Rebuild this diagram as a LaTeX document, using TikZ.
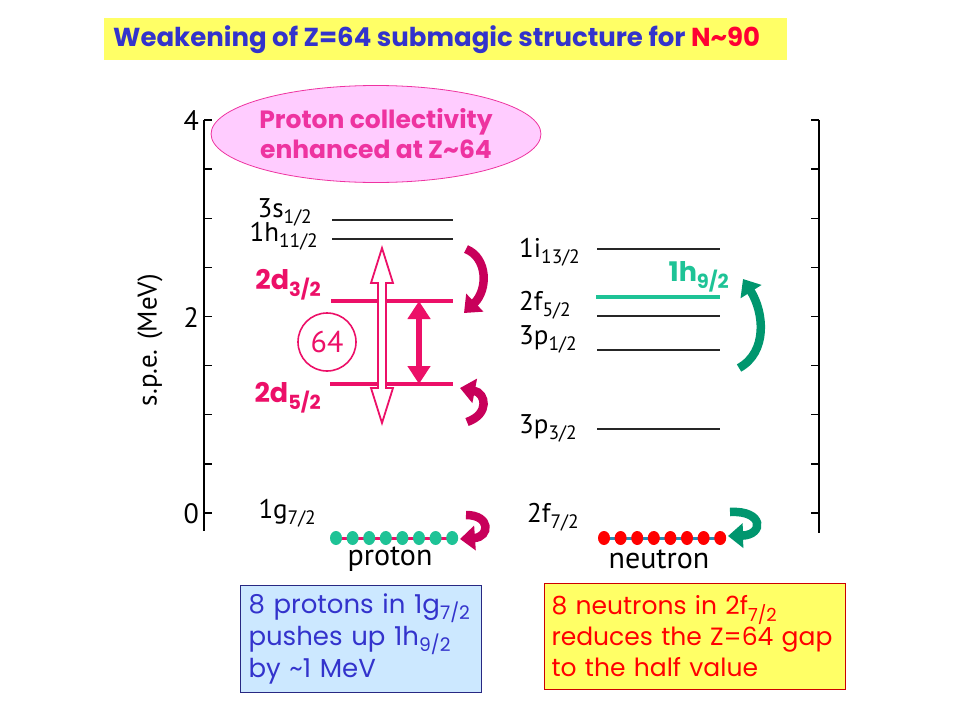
\documentclass[tikz,border=0pt]{standalone}
\usepackage{fontspec}
\setmainfont{PT Sans}
\newfontfamily\comic{Poppins}
\usetikzlibrary{arrows.meta, shapes.geometric}

\definecolor{titleblue}{RGB}{51,51,204}
\definecolor{titlered}{RGB}{255,0,51}
\definecolor{baryellow}{RGB}{255,255,102}
\definecolor{pinkred}{RGB}{236,16,104}
\definecolor{darkpink}{RGB}{200,0,90}
\definecolor{ovalpink}{RGB}{238,51,160}
\definecolor{ovalfill}{RGB}{255,204,255}
\definecolor{teal}{RGB}{30,195,150}
\definecolor{darkteal}{RGB}{0,150,110}
\definecolor{dotline}{RGB}{40,140,180}
\definecolor{boxfill}{RGB}{204,232,255}
\definecolor{boxedge}{RGB}{40,40,130}

\newcommand{\lsub}[1]{\raisebox{-0.45ex}{\scalebox{0.72}{#1}}}

\begin{document}
\begin{tikzpicture}[x=1pt,y=-1pt,
    level/.style={line width=1.6pt, black!85},
    hotlevel/.style={line width=3.5pt, pinkred},
    lab/.style={font=\fontsize{27}{30}\selectfont, inner sep=0pt},
    comictext/.style={font=\comic\bfseries\fontsize{27}{30}\selectfont, inner sep=0pt},
    curl/.style={line width=8.5pt, -{Triangle[length=15pt,width=24pt]}},
    axisline/.style={line width=1.4pt, black}]

  \useasboundingbox (0,0) rectangle (960,720);

  % title bar
  \fill[baryellow] (104,18) rectangle (787,60);
  \node[comictext, anchor=west, text=titleblue, font=\comic\bfseries\fontsize{26}{30}\selectfont] (title) at (113,40) {Weakening of Z=64 submagic structure for \textcolor{titlered}{N\textasciitilde90}};

  % energy axes
  \draw[axisline] (204,120) -- (204,531);
  \draw[axisline] (819,120) -- (819,533);
  \foreach \e in {0,0.5,...,4} {
    \draw[axisline] (204,{513-98.25*\e}) -- ++(8,0);
    \draw[axisline] (819,{513-98.25*\e}) -- ++(-8,0);
  }
  \node[lab, anchor=east, font=\fontsize{28}{30}\selectfont] (e4) at (199,121) {4};
  \node[lab, anchor=east, font=\fontsize{28}{30}\selectfont] (e2) at (199,318) {2};
  \node[lab, anchor=east, font=\fontsize{28}{30}\selectfont] (e0) at (199,514) {0};
  \node[lab, rotate=90] (yaxis) at (150,340) {s.p.e. (MeV)};

  % proton levels
  \draw[level] (332,220) -- (453,220);
  \draw[level] (332,239) -- (453,239);
  \draw[hotlevel] (331,301) coordinate (d3l) -- (453,301) coordinate (d3r);
  \draw[hotlevel] (330,384) coordinate (d5l) -- (453,384) coordinate (d5r);
  \node[lab, anchor=east] (s12) at (312,212) {3s\lsub{1/2}};
  \node[lab, anchor=east] (h112) at (318,236) {1h\lsub{11/2}};
  \node[comictext, anchor=east, text=pinkred] (d32) at (321,285) {2d\lsub{3/2}};
  \node[comictext, anchor=east, text=pinkred] (d52) at (321,398) {2d\lsub{5/2}};
  \node[lab, anchor=east] (g72) at (316,513) {1g\lsub{7/2}};

  % neutron levels
  \draw[level] (597,249) -- (720,249);
  \draw[line width=3.5pt, teal] (596,297) -- (720,297);
  \draw[level] (597,316) -- (720,316);
  \draw[level] (597,350) -- (720,350);
  \draw[level] (597,429) -- (720,429);
  \node[lab, anchor=west] (i132) at (519,252) {1i\lsub{13/2}};
  \node[comictext, anchor=east, text=teal] (h92) at (729,277) {1h\lsub{9/2}};
  \node[lab, anchor=west] (f52) at (519,305) {2f\lsub{5/2}};
  \node[lab, anchor=west] (p12) at (519,339) {3p\lsub{1/2}};
  \node[lab, anchor=west] (p32) at (519,428) {3p\lsub{3/2}};
  \node[lab, anchor=west] (f72) at (527,517) {2f\lsub{7/2}};

  % filled orbitals
  \draw[line width=3pt, pinkred] (336,538) -- (452,538);
  \foreach \i in {0,...,7}
    \fill[teal] ({336+16.6*\i},538) ellipse (6pt and 7pt);
  \draw[line width=3pt, dotline] (604,538) -- (720,538);
  \foreach \i in {0,...,7}
    \fill[red] ({604+16.6*\i},538) ellipse (6pt and 7pt);
  \node[lab, font=\fontsize{30}{32}\selectfont] (proton) at (390,559) {proton};
  \node[lab, font=\fontsize{30}{32}\selectfont] (neutron) at (659,559) {neutron};

  % gap 64
  \node[circle, draw=pinkred, line width=1.6pt, minimum size=58pt, inner sep=0pt, text=pinkred, font=\fontsize{30}{32}\selectfont] (gap) at (327,342) {64};
  \draw[pinkred, line width=1.8pt, fill=white] (382,248) -- (393,283) -- (386,283) -- (386,388) -- (393,388) -- (382,423)
    -- (371,388) -- (378,388) -- (378,283) -- (371,283) -- cycle;
  \coordinate (gaptop) at (419,301);
  \coordinate (gapbot) at (419,384);
  \draw[pinkred, line width=6pt, {Triangle[length=18pt,width=22pt]}-{Triangle[length=18pt,width=22pt]}] (gaptop) -- (gapbot);

  % curled arrows
  \draw[curl, darkpink] (466,249) .. controls (488,258) and (488,290) .. (464,313);
  \draw[curl, darkpink] (467,422) .. controls (490,414) and (486,393) .. (460,388);
  \draw[curl, darkpink] (466,515) .. controls (491,515) and (490,537) .. (460,539);
  \draw[curl, darkteal] (739,368) .. controls (768,352) and (764,312) .. (743,279);
  \draw[curl, darkteal] (730,512) .. controls (764,510) and (764,535) .. (728,536);

  % collectivity oval
  \node[ellipse, draw=ovalpink, fill=ovalfill, line width=0.8pt, minimum width=320pt, minimum height=97pt, inner sep=0pt,
    comictext, text=ovalpink, align=center, font=\comic\bfseries\fontsize{25}{30}\selectfont] (oval) at (376,134)
    {Proton collectivity\\enhanced at Z\textasciitilde64};

  % comment boxes
  \node[draw=boxedge, fill=boxfill, line width=1pt, anchor=north west, minimum width=241pt, minimum height=107pt,
    text width=225pt, inner sep=8pt, align=left, text=titleblue, font=\comic\fontsize{26}{32}\selectfont] (pbox) at (240,585)
    {8 protons in 1g\lsub{7/2}\\pushes up 1h\lsub{9/2}\\by \textasciitilde1 MeV};
  \node[draw=red!80!black, fill=baryellow, line width=1pt, anchor=north west, minimum width=301pt, minimum height=106pt,
    text width=287pt, inner sep=7pt, align=left, text=red, font=\comic\fontsize{25}{31}\selectfont] (nbox) at (544,583)
    {8 neutrons in 2f\lsub{7/2}\\reduces the Z=64 gap\\to the half value};
\end{tikzpicture}
\end{document}
